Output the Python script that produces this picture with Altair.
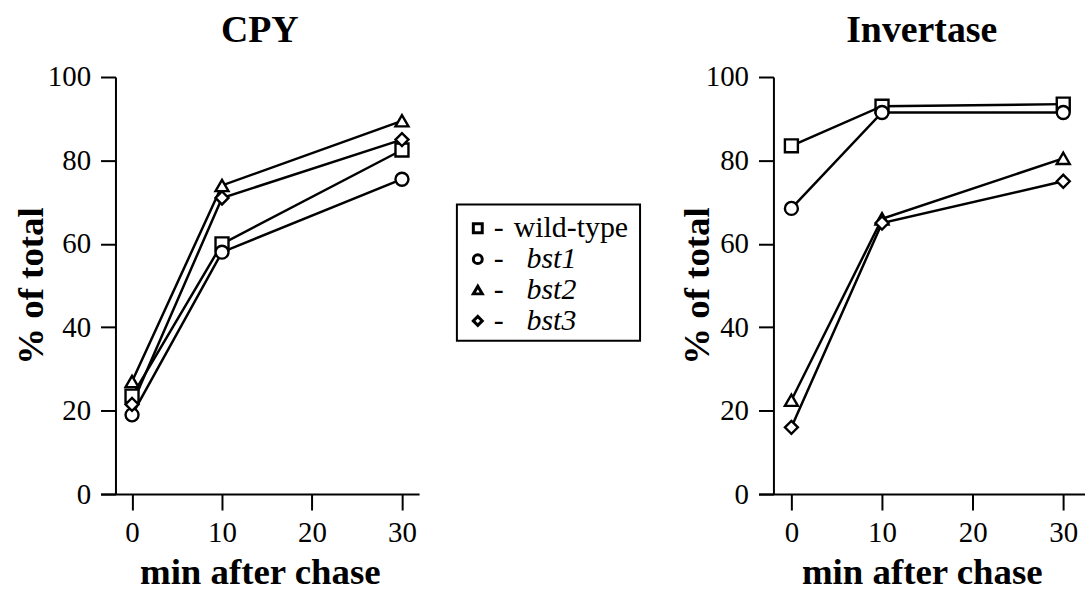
import altair as alt
import pandas as pd

# ---- data ----
times = [0, 10, 30]
strains = ["wild-type", "bst1", "bst2", "bst3"]
shapes = ["square", "circle", "triangle-up", "diamond"]

cpy_wt = [23.5, 60, 82.5]
cpy_bst1 = [19, 58, 75.5]
cpy_bst2 = [27, 74, 89.5]
cpy_bst3 = [21.5, 71, 85]

inv_wt = [83.5, 93, 93.5]
inv_bst1 = [68.5, 91.5, 91.5]
inv_bst2 = [22.5, 66, 80.5]
inv_bst3 = [16, 65, 75]

x_ticks = [0, 10, 20, 30]
y_ticks = [0, 20, 40, 60, 80, 100]

FONT = "Liberation Serif"
PLOT_H = 419


def make_df(series):
    rows = []
    for s, vals in zip(strains, series):
        for t, v in zip(times, vals):
            rows.append({"strain": s, "t": t, "v": v})
    return pd.DataFrame(rows)


def panel(title, series, xdomain, width, ytitle_pad):
    df = make_df(series)
    x = alt.X(
        "t:Q",
        scale=alt.Scale(domain=xdomain, nice=False, zero=False),
        axis=alt.Axis(values=x_ticks, title="min after chase", labelPadding=9,
                      titlePadding=7, tickSize=16, labelFlush=False),
    )
    y = alt.Y(
        "v:Q",
        scale=alt.Scale(domain=[0, 100], nice=False),
        axis=alt.Axis(values=y_ticks, title="% of total", offset=-15, tickSize=15,
                      labelPadding=10, titlePadding=ytitle_pad, labelFlush=False),
    )
    base = alt.Chart(df)
    lines = base.mark_line(color="black", strokeWidth=2.5).encode(
        x=x, y=y, detail="strain:N", order="t:Q"
    )
    pts = base.mark_point(
        filled=True, fill="white", stroke="black", strokeWidth=2.4, opacity=1, size=170
    ).encode(
        x=x,
        y=y,
        shape=alt.Shape("strain:N", scale=alt.Scale(domain=strains, range=shapes), legend=None),
    )
    return alt.layer(lines, pts).properties(
        width=width,
        height=PLOT_H,
        title=alt.TitleParams(title, fontSize=38, font=FONT, fontWeight="bold", offset=13, color="black"),
    )


left = panel("CPY", [cpy_wt, cpy_bst1, cpy_bst2, cpy_bst3], [-3.5, 31.9], 320, -3)
right = panel("Invertase", [inv_wt, inv_bst1, inv_bst2, inv_bst3], [-3.63, 32.4], 328, -11)

# ---- hand-drawn legend box (same height as the panels) ----
leg_df = pd.DataFrame({"strain": strains, "row": [0, 1, 2, 3], "italic": [False, True, True, True]})
ly = alt.Y("row:Q", scale=alt.Scale(domain=[-4.9, 8.61], reverse=True, nice=False, zero=False), axis=None)
lbase = alt.Chart(leg_df)
leg_box = alt.Chart(pd.DataFrame({"k": [0]})).mark_rect(
    fill=None, stroke="black", strokeWidth=2
).encode(x=alt.value(0), x2=alt.value(184), y=alt.value(128), y2=alt.value(265))
leg_sym = lbase.mark_point(filled=True, fill="white", stroke="black", strokeWidth=3, opacity=1, size=80).encode(
    x=alt.value(21), y=ly,
    shape=alt.Shape("strain:N", scale=alt.Scale(domain=strains, range=shapes), legend=None),
)
leg_dash = lbase.mark_text(text="-", font=FONT, fontSize=30, align="left", baseline="middle", color="black").encode(
    x=alt.value(37), y=ly
)
leg_plain = lbase.transform_filter("!datum.italic").mark_text(
    font=FONT, fontSize=30, align="left", baseline="middle", color="black"
).encode(x=alt.value(57), y=ly, text="strain:N")
leg_ital = lbase.transform_filter("datum.italic").mark_text(
    font=FONT, fontSize=30, fontStyle="italic", align="left", baseline="middle", color="black"
).encode(x=alt.value(70), y=ly, text="strain:N")

legend = alt.layer(leg_box, leg_sym, leg_dash, leg_plain, leg_ital).properties(
    width=184,
    height=PLOT_H,
)

chart = (
    alt.hconcat(left, legend, right, spacing=37)
    .properties(padding={"left": 12, "top": 11, "right": 0, "bottom": 0}, background="white")
    .configure_view(stroke=None)
    .configure_axis(
        grid=False,
        domainColor="black",
        domainWidth=2,
        tickColor="black",
        tickWidth=2,
        labelFont=FONT,
        labelFontSize=29,
        labelColor="black",
        titleFont=FONT,
        titleFontSize=37,
        titleFontWeight="bold",
        titleColor="black",
    )
)

chart.save("out.html", embed_options={"renderer": "svg", "actions": False})
